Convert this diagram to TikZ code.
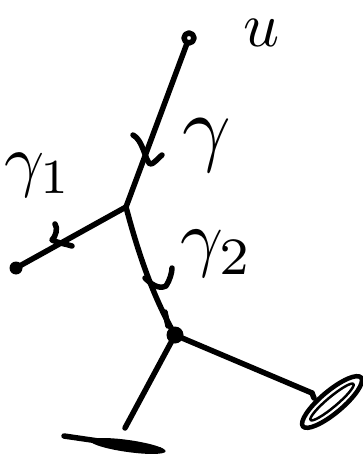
\documentclass[tikz,border=0pt]{standalone}
\begin{document}
\begin{tikzpicture}[x=1pt,y=-1pt,line cap=round,line join=round,
  stroke/.style={line width=5.5pt,black},
  lbl/.style={scale=#1,inner sep=0pt},lbl/.default=7]
\useasboundingbox (0,0) rectangle (363,462);
\coordinate (u) at (189,38);
\coordinate (j1) at (126,207);
\coordinate (l) at (16,268);
\coordinate (j2) at (175,335);
\coordinate (r) at (312,393);
\coordinate (b) at (125,428);
% branches
\draw[stroke] (u) -- (j1);
\draw[stroke] (j1) -- (l);
\draw[stroke] (j1) .. controls (140,260) and (155,300) .. (j2);
\draw[stroke] (j2) -- (r);
\draw[stroke] (j2) -- (b);
% end marks
\draw[stroke,fill=white] (u) circle (5);
\fill (l) circle (6.5);
\fill (j2) circle (8.5);
\draw[stroke] (312,393) -- (314,398);
\draw[line width=4.5pt] (332,402) ellipse [x radius=38, y radius=11, rotate=40];
\draw[line width=2.5pt] (332,402) ellipse [x radius=28, y radius=5, rotate=40];
\fill[rotate around={-8:(128,446)}] (128,446) ellipse [x radius=38, y radius=6];
\draw[stroke] (64,436) -- (160,450);
% ticks
\draw[stroke] (133,135) .. controls (143,140) and (145,160) .. (150,164) .. controls (153,165) and (158,158) .. (162,155);
\draw[stroke] (55,224) .. controls (58,228) and (56,236) .. (52,240) .. controls (58,243) and (66,244) .. (72,246);
\draw[stroke] (145,278) .. controls (150,283) and (158,290) .. (166,286) .. controls (170,280) and (172,272) .. (172,268);
\draw[stroke] (165,312) -- (168,326);
% labels
\node[lbl=6.3] (ul) at (262,33) {$u$};
\node[lbl=8.5] (gl) at (207,145) {$\gamma$};
\node[lbl=7] (g1l) at (38,175) {$\gamma_1$};
\node[lbl=7.5] (g2l) at (217,254) {$\gamma_2$};
\end{tikzpicture}
\end{document}
